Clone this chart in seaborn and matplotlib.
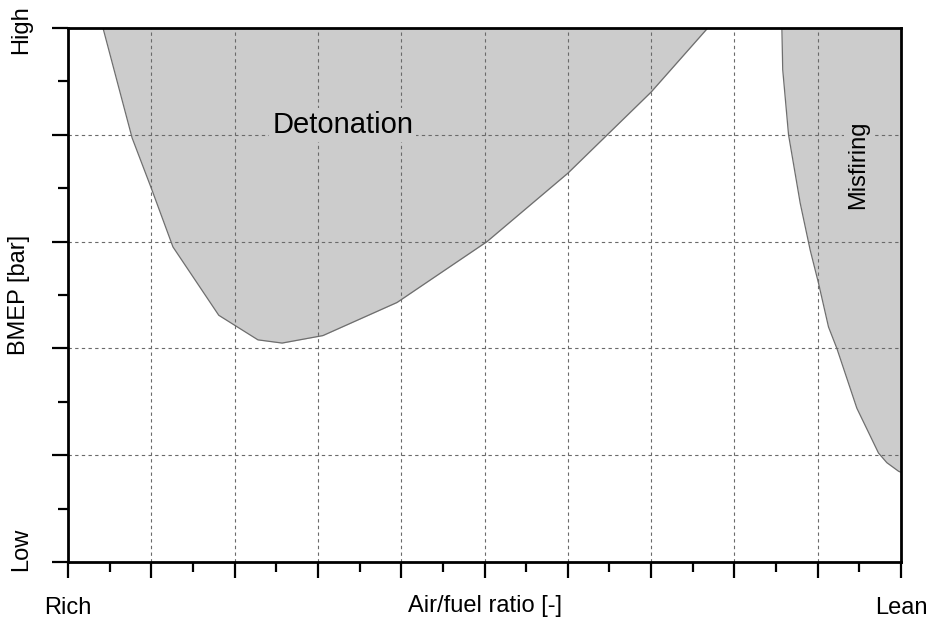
import matplotlib
matplotlib.use("Agg")
import matplotlib.pyplot as plt
import matplotlib.transforms as mtransforms
import seaborn as sns
import pandas as pd
from matplotlib.ticker import MultipleLocator

# Knock-limit boundary (air/fuel position, load)
det_x = [0.42, 0.77, 1.00, 1.26, 1.81, 2.28, 2.57, 3.06, 3.95, 5.03, 6.00, 7.00, 7.68]
det_y = [5.00, 3.97, 3.50, 2.95, 2.31, 2.08, 2.05, 2.12, 2.43, 3.00, 3.64, 4.40, 5.00]

# Lean misfire boundary
mis_x = [8.57, 8.58, 8.65, 8.79, 8.91, 9.01, 9.13, 9.23, 9.47, 9.73, 9.83, 9.97, 10.00]
mis_y = [5.00, 4.61, 4.00, 3.36, 2.92, 2.61, 2.20, 2.00, 1.44, 1.02, 0.93, 0.85, 0.84]

x_tick_labels = ["Rich"] + [""] * 9 + ["Lean"]
y_tick_labels = ["Low"] + [""] * 4 + ["High"]

sns.set_theme(style="ticks")
plt.rcParams["font.family"] = ["Liberation Sans", "DejaVu Sans"]
plt.rcParams["text.color"] = "black"
plt.rcParams["axes.labelcolor"] = "black"
plt.rcParams["xtick.color"] = "black"
plt.rcParams["ytick.color"] = "black"

fill_col = "#cccccc"
edge_col = "#6e6e6e"

fig = plt.figure(figsize=(9.26, 6.25), dpi=100)
ax = fig.add_axes([68 / 926, 63 / 625, 833 / 926, 534 / 625])

det = pd.DataFrame({"afr": det_x, "load": det_y})
mis = pd.DataFrame({"afr": mis_x, "load": mis_y})

ax.fill_between(det["afr"], det["load"], 5, color=fill_col, lw=0, zorder=1)
ax.fill_between(mis["afr"], mis["load"], 5, color=fill_col, lw=0, zorder=1)
sns.lineplot(data=det, x="afr", y="load", estimator=None, sort=False,
             color=edge_col, lw=0.9, ax=ax, zorder=1.5)
sns.lineplot(data=mis, x="afr", y="load", estimator=None, sort=False,
             color=edge_col, lw=0.9, ax=ax, zorder=1.5)

ax.set_xlim(0, 10)
ax.set_ylim(0, 5)

ax.xaxis.set_major_locator(MultipleLocator(1))
ax.xaxis.set_minor_locator(MultipleLocator(0.5))
ax.yaxis.set_major_locator(MultipleLocator(1))
ax.yaxis.set_minor_locator(MultipleLocator(0.5))
ax.set_xticks(range(11))
ax.set_xticklabels(x_tick_labels, fontsize=17, color="black")
ax.set_yticks(range(6))
ax.set_yticklabels(y_tick_labels, fontsize=17, rotation=90, va="center",
                   color="black")

ax.tick_params(which="major", direction="out", length=11.5, width=1.6,
               color="black")
ax.tick_params(which="minor", direction="out", length=7.5, width=1.6,
               color="black")
ax.tick_params(axis="x", which="major", pad=14)
ax.tick_params(axis="y", which="major", pad=14)

# nudge the end labels on the load axis
ylabels = ax.get_yticklabels()
for lab, dy in ((ylabels[0], 9), (ylabels[-1], -1)):
    off = mtransforms.ScaledTranslation(0, dy / 72, fig.dpi_scale_trans)
    lab.set_transform(lab.get_transform() + off)

ax.set_axisbelow(False)
ax.grid(True, which="major", linestyle=(0, (3, 3)), color="#6a6a6a",
        linewidth=0.8, zorder=2)

for s in ax.spines.values():
    s.set_visible(True)
    s.set_color("black")
    s.set_linewidth(2.0)
    s.set_zorder(4)

ax.set_xlabel("Air/fuel ratio [-]", fontsize=17, color="black")
ax.set_ylabel("BMEP [bar]", fontsize=17, color="black")
ax.xaxis.set_label_coords(0.5, -0.062)
ax.yaxis.set_label_coords(-0.046, 0.5)

ax.text(3.30, 4.09, "Detonation", fontsize=21, ha="center", va="center",
        color="black", zorder=3,
        bbox=dict(facecolor=fill_col, edgecolor="none", pad=2))
ax.text(9.48, 3.72, "Misfiring", fontsize=17, rotation=90, ha="center",
        va="center", color="black", zorder=3,
        bbox=dict(facecolor=fill_col, edgecolor="none", pad=2))

fig.savefig("out.png", dpi=100)
